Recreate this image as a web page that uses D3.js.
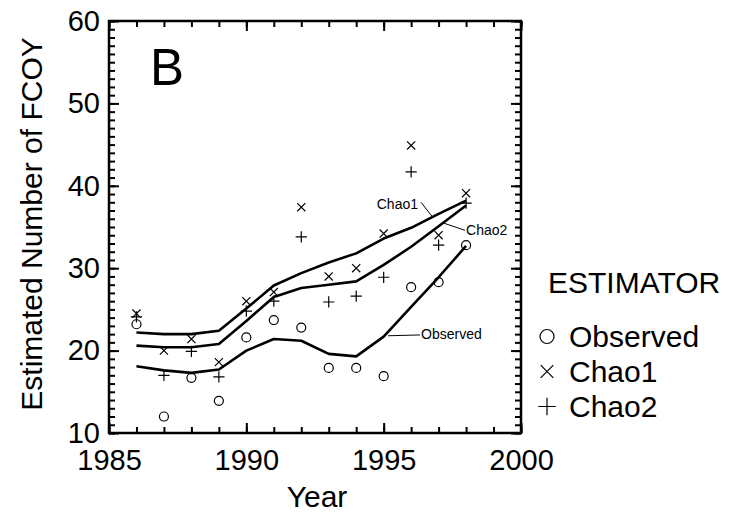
<!DOCTYPE html>
<html>
<head>
<meta charset="utf-8">
<script src="https://cdn.jsdelivr.net/npm/d3@7"></script>
<style>
  body { margin: 0; background: #fff; }
  svg { display: block; font-family: "Liberation Sans", Arial, sans-serif; }
</style>
</head>
<body>
<div id="chart"></div>
<script>
// Data
const years = [1986, 1987, 1988, 1989, 1990, 1991, 1992, 1993, 1994, 1995, 1996, 1997, 1998];

const observed = [23.2, 12.0, 16.7, 13.9, 21.6, 23.7, 22.8, 17.9, 17.9, 16.9, 27.7, 28.3, 32.8];
const chao1 = [24.5, 20.0, 21.4, 18.6, 26.0, 27.1, 37.4, 29.0, 30.0, 34.2, 44.9, 34.0, 39.1];
const chao2 = [24.1, 17.0, 19.9, 16.8, 24.8, 26.0, 33.8, 25.9, 26.6, 28.9, 41.7, 32.8, 37.9];

// smoothed curves
const smoothObserved = [18.1, 17.6, 17.3, 17.7, 20.0, 21.4, 21.2, 19.6, 19.3, 21.7, 25.3, 28.9, 32.7];
const smoothChao1 = [22.2, 22.0, 22.0, 22.4, 25.1, 27.9, 29.4, 30.7, 31.8, 33.6, 34.9, 36.6, 38.2];
const smoothChao2 = [20.6, 20.4, 20.4, 20.8, 23.6, 26.5, 27.6, 28.0, 28.4, 30.4, 32.6, 35.1, 37.6];

const xTicks = [1985, 1990, 1995, 2000];
const yTicks = [10, 20, 30, 40, 50, 60];
const legendNames = ["Observed", "Chao1", "Chao2"];

// curve labels: text anchor + leader line, in data units
const curveLabels = [
  { text: "Chao1", anchor: "end", x: 1996.25, y: 37.2, from: [1996.36, 38.0], to: [1996.76, 36.3] },
  { text: "Chao2", anchor: "start", x: 1998.0, y: 34.0, from: [1997.16, 35.5], to: [1997.96, 34.6] },
  { text: "Observed", anchor: "start", x: 1996.36, y: 21.4, from: [1995.16, 21.8], to: [1996.32, 21.9] },
];

const WIDTH = 736;
const HEIGHT = 514;
const plot = { left: 109, right: 521, top: 21, bottom: 433 };
const FONT = 29;

const svg = d3
  .select("#chart")
  .append("svg")
  .attr("width", WIDTH)
  .attr("height", HEIGHT);

// Scales
const x = d3.scaleLinear().domain([1985, 2000]).range([plot.left, plot.right]);
const y = d3.scaleLinear().domain([10, 60]).range([plot.bottom, plot.top]);

const minorX = d3.range(1985, 2001);
const minorY = d3.range(10, 61);

// Axes (ticks point inward, mirrored on top and right)
function styleAxis(g) {
  g.select(".domain").remove();
  g.selectAll(".tick line").attr("stroke", "#000").attr("stroke-width", 2);
  g.selectAll(".tick text")
    .attr("fill", "#000")
    .style("font-size", FONT + "px");
}

svg.append("g")
  .attr("transform", "translate(0," + plot.bottom + ")")
  .call(d3.axisBottom(x).tickValues(minorX).tickSize(-6).tickFormat(""))
  .call(styleAxis);
svg.append("g")
  .attr("transform", "translate(0," + plot.bottom + ")")
  .call(d3.axisBottom(x).tickValues(xTicks).tickSize(-10).tickPadding(16).tickFormat(d3.format("d")))
  .call(styleAxis);
svg.append("g")
  .attr("transform", "translate(0," + plot.top + ")")
  .call(d3.axisTop(x).tickValues(minorX).tickSize(-6).tickFormat(""))
  .call(styleAxis);
svg.append("g")
  .attr("transform", "translate(0," + plot.top + ")")
  .call(d3.axisTop(x).tickValues(xTicks).tickSize(-10).tickFormat(""))
  .call(styleAxis);

svg.append("g")
  .attr("transform", "translate(" + plot.left + ",0)")
  .call(d3.axisLeft(y).tickValues(minorY).tickSize(-6).tickFormat(""))
  .call(styleAxis);
svg.append("g")
  .attr("transform", "translate(" + plot.left + ",0)")
  .call(d3.axisLeft(y).tickValues(yTicks).tickSize(-10).tickPadding(9).tickFormat(d3.format("d")))
  .call(styleAxis);
svg.append("g")
  .attr("transform", "translate(" + plot.right + ",0)")
  .call(d3.axisRight(y).tickValues(minorY).tickSize(-6).tickFormat(""))
  .call(styleAxis);
svg.append("g")
  .attr("transform", "translate(" + plot.right + ",0)")
  .call(d3.axisRight(y).tickValues(yTicks).tickSize(-10).tickFormat(""))
  .call(styleAxis);

// Frame
svg.append("rect")
  .attr("x", plot.left)
  .attr("y", plot.top)
  .attr("width", plot.right - plot.left)
  .attr("height", plot.bottom - plot.top)
  .attr("fill", "none")
  .attr("stroke", "#000")
  .attr("stroke-width", 2.5);

// Axis labels
svg.append("text")
  .attr("x", (plot.left + plot.right) / 2 + 2)
  .attr("y", 507)
  .attr("text-anchor", "middle")
  .style("font-size", "30px")
  .text("Year");

svg.append("text")
  .attr("transform", "translate(42," + 224 + ") rotate(-90)")
  .attr("text-anchor", "middle")
  .style("font-size", "30px")
  .text("Estimated Number of FCOY");

// Panel letter
svg.append("text")
  .attr("x", 150)
  .attr("y", 85)
  .style("font-size", "51px")
  .text("B");

// Smoothed lines
const line = d3.line()
  .x((d, i) => x(years[i]))
  .y((d) => y(d));

[smoothObserved, smoothChao1, smoothChao2].forEach((s) => {
  svg.append("path")
    .datum(s)
    .attr("d", line)
    .attr("fill", "none")
    .attr("stroke", "#000")
    .attr("stroke-width", 2.6)
    .attr("stroke-linejoin", "round");
});

// Marker shapes
function drawMarker(g, kind, cx, cy, s) {
  if (kind === "Observed") {
    g.append("circle")
      .attr("cx", cx).attr("cy", cy).attr("r", s)
      .attr("fill", "none").attr("stroke", "#000").attr("stroke-width", 1.2);
  } else if (kind === "Chao1") {
    const h = s * 0.9;
    g.append("path")
      .attr("d", `M${cx - h},${cy - h}L${cx + h},${cy + h}M${cx - h},${cy + h}L${cx + h},${cy - h}`)
      .attr("stroke", "#000").attr("stroke-width", 1.2).attr("fill", "none");
  } else {
    const h = s * 1.25;
    g.append("path")
      .attr("d", `M${cx - h},${cy}L${cx + h},${cy}M${cx},${cy - h}L${cx},${cy + h}`)
      .attr("stroke", "#000").attr("stroke-width", 1.2).attr("fill", "none");
  }
}

const points = svg.append("g");
const series = { Observed: observed, Chao1: chao1, Chao2: chao2 };
legendNames.forEach((name) => {
  series[name].forEach((v, i) => drawMarker(points, name, x(years[i]), y(v), 4.5));
});

// Curve labels
curveLabels.forEach((c) => {
  svg.append("line")
    .attr("x1", x(c.from[0])).attr("y1", y(c.from[1]))
    .attr("x2", x(c.to[0])).attr("y2", y(c.to[1]))
    .attr("stroke", "#000").attr("stroke-width", 1);
  svg.append("text")
    .attr("x", x(c.x))
    .attr("y", y(c.y))
    .attr("text-anchor", c.anchor)
    .style("font-size", "14px")
    .text(c.text);
});

// Legend
const legend = svg.append("g");
legend.append("text")
  .attr("x", 548)
  .attr("y", 293)
  .style("font-size", "30px")
  .text("ESTIMATOR");

legendNames.forEach((name, i) => {
  const base = 347 + i * 35;
  drawMarker(legend, name, 547, base - 10.5, 7);
  legend.append("text")
    .attr("x", 569)
    .attr("y", base)
    .style("font-size", "30px")
    .text(name);
});
</script>
</body>
</html>
